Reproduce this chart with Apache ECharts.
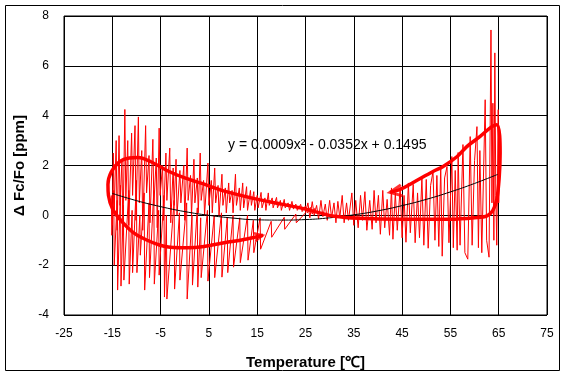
<!DOCTYPE html>
<html>
<head>
<meta charset="utf-8">
<script src="https://cdn.jsdelivr.net/npm/echarts@6/dist/echarts.min.js"></script>
<style>html,body{margin:0;padding:0;background:#fff}#c{width:567px;height:377px}</style>
</head>
<body>
<div id="c"></div>
<script>
// Axis ticks
const xTicks = [-25, -15, -5, 5, 15, 25, 35, 45, 55, 65, 75];
const yTicks = [-4, -2, 0, 2, 4, 6, 8];

// Measured trace, upper oscillations (cold side)
const upperTrace = [[-15.0,-0.4],[-14.8,2.5],[-14.6,0.2],[-14.2,3.0],[-14.0,-0.6],[-13.6,3.2],[-13.4,0.4],[-13.0,2.2],[-12.8,-0.8],[-12.4,4.25],[-12.2,0.6],[-11.8,3.0],[-11.6,-0.4],[-11.0,3.3],[-10.8,0.8],[-10.3,3.6],[-10.1,-0.2],[-9.6,3.95],[-9.4,0.5],[-8.9,2.6],[-8.7,-0.6],[-8.1,3.6],[-7.9,0.9],[-7.4,2.4],[-7.2,-0.3],[-6.6,3.05],[-6.4,0.4],[-5.9,2.3],[-5.7,-0.5],[-5.3,3.5],[-5.1,0.8],[-4.6,2.0],[-4.4,-0.2],[-3.9,2.5],[-3.7,0.6],[-3.1,2.7],[-2.9,-0.3],[-2.4,1.9],[-2.2,0.4],[-1.8,2.25],[-1.6,0.0],[-1.0,1.8],[-0.8,0.5],[-0.2,2.0],[0.0,-0.2],[0.5,2.7],[0.7,0.6],[1.2,1.6],[1.4,0.0],[1.9,2.25],[2.1,0.5],[2.6,1.5],[2.8,0.1],[3.2,2.5],[3.4,0.6],[3.9,1.4],[4.1,0.0],[4.8,2.1],[5.0,0.4],[5.5,1.4],[5.7,0.1],[6.2,1.9],[6.4,0.5],[6.9,1.2],[7.1,0.0],[7.7,1.65],[7.9,0.4],[8.4,1.1],[8.6,0.1],[9.1,1.3],[9.3,0.5],[9.8,1.0],[10.0,0.1],[10.5,1.65],[10.7,0.4],[11.3,1.1],[11.5,0.2],[12.0,1.3],[12.2,0.3],[12.8,1.15],[13.0,0.2],[13.6,1.0],[13.8,0.4],[14.3,0.95],[14.5,0.2],[15.0,0.8],[15.2,0.3],[15.8,0.92],[16.0,0.3],[16.6,0.7],[16.8,0.2],[17.3,0.9],[17.5,0.4],[18.1,0.7],[18.3,0.3],[19.0,0.72],[19.2,0.3],[19.8,0.6],[20.0,0.2],[20.6,0.64],[20.8,0.3],[21.4,0.5],[21.7,0.2],[22.2,0.56],[22.5,0.25],[23.0,0.45],[23.3,0.2],[24.0,0.44],[24.3,0.15],[25.0,0.38],[25.4,0.1],[26.0,0.32],[26.4,0.05],[27.0,0.3]];

// Measured trace, lower oscillations (cold side)
const lowerTrace = [[-15.2,0.8],[-15.1,-0.8],[-14.7,1.0],[-14.6,-2.0],[-14.0,0.6],[-13.9,-3.0],[-13.3,1.2],[-13.2,-2.84],[-12.7,0.4],[-12.6,-2.6],[-11.6,1.0],[-11.5,-2.76],[-10.9,0.2],[-10.8,-2.3],[-10.0,1.4],[-9.9,-2.3],[-9.3,0.0],[-9.2,-1.6],[-8.4,0.9],[-8.3,-3.0],[-7.4,0.5],[-7.3,-2.5],[-6.4,1.0],[-6.3,-2.76],[-5.4,0.2],[-5.3,-2.4],[-4.3,0.8],[-4.2,-3.28],[-3.8,0.0],[-3.7,-3.36],[-2.2,0.6],[-2.1,-2.96],[-1.1,0.1],[-1.0,-2.6],[0.4,0.5],[0.5,-3.36],[1.5,0.0],[1.6,-2.8],[2.6,0.3],[2.7,-2.88],[3.3,-0.1],[3.4,-2.5],[4.7,0.2],[4.8,-2.64],[6.1,0.0],[6.2,-2.5],[7.6,0.1],[7.7,-2.48],[8.8,-0.1],[8.9,-2.3],[10.0,0.0],[10.1,-2.08],[11.4,-0.1],[11.5,-1.9],[13.0,0.0],[13.1,-1.8],[14.2,-0.2],[14.3,-1.5],[15.6,-0.1],[15.7,-1.36],[17.9,-0.24],[18.0,-0.88],[20.6,-0.08],[20.7,-0.56],[23.0,0.05],[23.1,-0.3],[25.0,0.1]];

// Measured trace, hot side
const hotTrace = [[25.0,0.1],[25.5,0.5],[25.9,-0.1],[26.4,0.55],[26.8,0.0],[27.3,0.4],[27.7,-0.15],[28.2,0.6],[28.6,-0.05],[29.1,0.45],[29.5,-0.2],[30.0,0.6],[30.4,-0.1],[30.9,0.5],[31.3,-0.3],[31.7,0.56],[32.1,-0.1],[32.6,0.8],[33.0,-0.3],[33.5,0.5],[33.9,-0.2],[34.6,0.9],[35.0,-0.4],[35.4,0.6],[35.9,-0.5],[36.4,0.8],[36.8,-0.2],[37.3,0.95],[37.7,-0.6],[38.3,0.6],[38.8,-0.56],[39.2,1.0],[39.6,-0.3],[40.1,0.8],[40.5,-0.76],[41.0,1.0],[41.4,-0.5],[41.9,0.64],[42.4,-0.8],[42.8,1.1],[43.1,-0.96],[43.6,0.9],[44.0,-0.6],[44.6,1.12],[45.0,-0.9],[45.4,0.8],[45.8,-1.08],[46.3,1.3],[46.7,-0.7],[47.3,1.24],[47.7,-1.1],[48.2,0.9],[48.6,-0.9],[49.1,1.5],[49.5,-1.2],[50.0,1.44],[50.4,-1.32],[50.9,1.2],[51.4,1.76],[51.8,-1.0],[52.2,1.6],[52.6,-1.25],[53.0,1.96],[53.3,-1.64],[53.8,1.5],[54.3,1.96],[54.7,-1.1],[55.3,2.36],[55.6,-1.3],[56.0,1.8],[56.4,-1.4],[56.6,2.52],[57.0,-1.2],[57.6,2.84],[58.0,-1.5],[58.6,-1.76],[59.1,3.16],[59.5,-1.2],[60.0,2.2],[60.5,3.56],[60.8,-1.3],[61.1,2.6],[61.5,-1.5],[62.2,4.64],[62.5,-1.0],[63.0,-1.68],[63.4,7.44],[63.6,0.5],[63.8,4.5],[64.0,-1.0],[64.2,6.52],[64.4,0.8],[64.6,-1.2],[64.9,4.24],[65.0,0.5],[65.2,1.8]];

// Polynomial trendline y = 0.0009x^2 - 0.0352x + 0.1495
const trendX = [-15, -10, -5, 0, 5, 10, 15, 20, 25, 30, 35, 40, 45, 50, 55, 60, 65];
const trendY = [0.88, 0.59, 0.35, 0.15, 0.00, -0.11, -0.18, -0.19, -0.17, -0.10, 0.02, 0.18, 0.39, 0.64, 0.94, 1.28, 1.66];

// Hand-drawn hysteresis loop annotation
const loopPath = [[16.2,-0.8],[12,-0.98],[8.7,-1.08],[4,-1.25],[0.5,-1.3],[-3,-1.28],[-5.1,-1.2],[-8,-0.98],[-10.7,-0.68],[-13,-0.25],[-14.9,0.24],[-15.8,0.8],[-15.9,1.24],[-15.2,1.75],[-13.5,2.15],[-11.5,2.3],[-9.7,2.32],[-7,2.15],[-3.7,1.8],[0,1.5],[3.2,1.3],[8,0.98],[12,0.78],[15.6,0.62],[20,0.45],[23.9,0.3],[28,0.1],[31,-0.04],[36,-0.12],[44.6,-0.16],[55,-0.16],[60,-0.1],[62.6,-0.02],[63.8,0.2],[64.6,0.64],[65.1,1.5],[65.3,2.5],[65.2,3.2],[64.6,3.64],[63.5,3.55],[61.1,3.16],[58.4,2.76],[56.4,2.36],[53.5,1.96],[51.4,1.76],[47.3,1.32],[44.6,1.04],[42.5,0.92]];
const arrowLeft = [[43.7, 0.96]];
const arrowRight = [[15.3, -0.84]];

const equation = 'y = 0.0009x² - 0.0352x + 0.1495';

const chart = echarts.init(document.getElementById('c'), null, {renderer: 'canvas'});
const red = '#ff0000';
chart.setOption({
  animation: false,
  backgroundColor: '#fff',
  grid: {left: 64, top: 16, width: 483, height: 299, show: true, borderColor: '#000', borderWidth: 1, backgroundColor: 'transparent'},
  xAxis: {
    type: 'value', min: xTicks[0], max: xTicks[xTicks.length - 1], interval: 10,
    name: 'Temperature [℃]', nameLocation: 'middle', nameGap: 40,
    nameTextStyle: {fontFamily: 'Liberation Sans', fontWeight: 'bold', fontSize: 15, color: '#000'},
    axisLine: {show: false}, axisTick: {show: false},
    axisLabel: {fontFamily: 'Liberation Sans', fontSize: 12, color: '#000', margin: 13},
    splitLine: {show: true, lineStyle: {color: '#000', width: 1}}
  },
  yAxis: {
    type: 'value', min: yTicks[0], max: yTicks[yTicks.length - 1], interval: 2,
    name: 'Δ Fc/Fo [ppm]', nameLocation: 'middle', nameGap: 36, nameRotate: 90,
    nameTextStyle: {fontFamily: 'Liberation Sans', fontWeight: 'bold', fontSize: 15, color: '#000'},
    axisLine: {show: false}, axisTick: {show: false},
    axisLabel: {fontFamily: 'Liberation Sans', fontSize: 12, color: '#000', margin: 15},
    splitLine: {show: true, lineStyle: {color: '#000', width: 1}}
  },
  graphic: [
    {type: 'rect', shape: {x: 5.5, y: 5.5, width: 554, height: 365}, style: {fill: 'none', stroke: '#000', lineWidth: 1}, silent: true, z: -1},
    {type: 'text', x: 228, y: 145, style: {text: equation, fontFamily: 'Liberation Sans', fontSize: 14, fill: '#000', verticalAlign: 'middle'}, z: 100}
  ],
  series: [
    {type: 'line', data: upperTrace, symbol: 'none', lineStyle: {color: red, width: 1}, z: 2},
    {type: 'line', data: lowerTrace, symbol: 'none', lineStyle: {color: red, width: 1}, z: 2},
    {type: 'line', data: hotTrace, symbol: 'none', lineStyle: {color: red, width: 1}, z: 2},
    {type: 'line', data: trendX.map((x, i) => [x, trendY[i]]), symbol: 'none', smooth: true, lineStyle: {color: '#000', width: 1}, z: 3},
    {type: 'line', data: loopPath, symbol: 'none', smooth: 0.35, lineStyle: {color: red, width: 3.5}, z: 4},
    {type: 'scatter', data: arrowLeft, symbol: 'path://M10,0 L0,5 L10,10', symbolSize: [12, 11], symbolRotate: 10,
      itemStyle: {color: 'transparent', borderColor: red, borderWidth: 3}, z: 5},
    {type: 'scatter', data: arrowRight, symbol: 'path://M0,0 L10,5 L0,10', symbolSize: [8, 8], symbolRotate: 12,
      itemStyle: {color: 'transparent', borderColor: red, borderWidth: 2.5}, z: 5}
  ]
});
</script>
</body>
</html>
